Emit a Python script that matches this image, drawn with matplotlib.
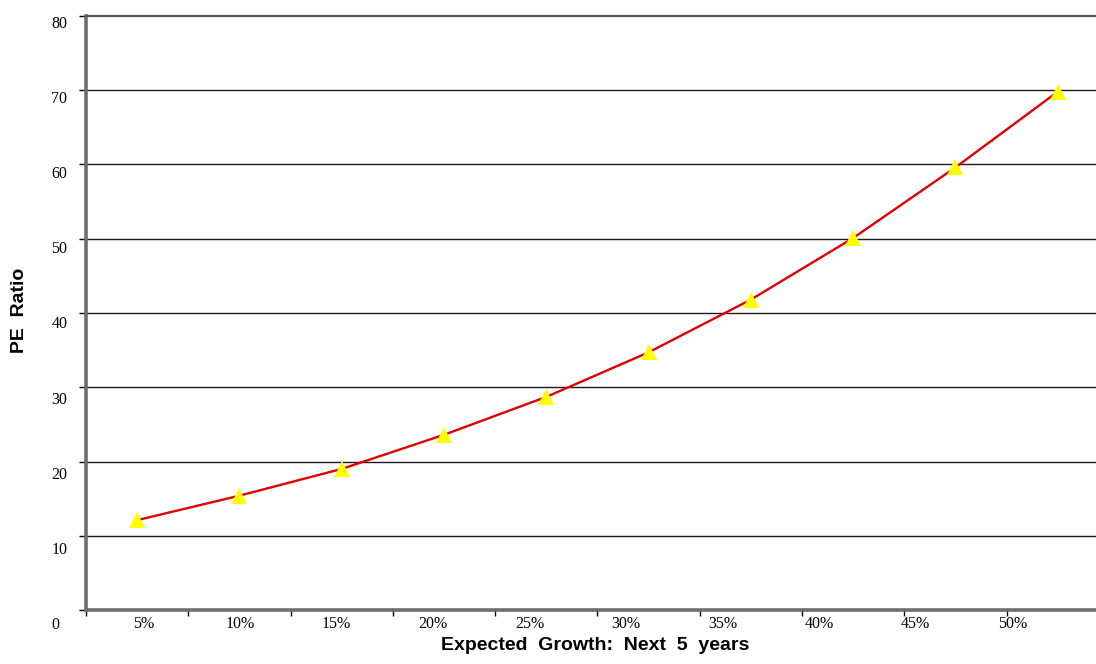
import matplotlib
matplotlib.use('Agg')
import matplotlib.pyplot as plt
import matplotlib.transforms as mtransforms

growth_labels = ['5%', '10%', '15%', '20%', '25%', '30%', '35%', '40%', '45%', '50%']
pe_ratio = [12.1, 15.4, 19.0, 23.6, 28.7, 34.7, 41.8, 50.1, 59.6, 69.8]
y_ticks = [0, 10, 20, 30, 40, 50, 60, 70, 80]

fig = plt.figure(figsize=(10.96, 6.64), dpi=100)
ax = fig.add_axes([86 / 1096, 1 - 610 / 664, 1010 / 1096, 594 / 664])

x = list(range(len(pe_ratio)))
ax.plot(x, pe_ratio, color='#e00000', linewidth=1.7, zorder=3)
ax.plot(x, pe_ratio, linestyle='none', marker='^', markersize=11,
        color='#ffff00', markeredgewidth=0, zorder=4)

ax.set_xlim(-0.5, 9.375)
ax.set_ylim(0, 80)

# gridlines
for v in y_ticks[1:-1]:
    ax.axhline(v, color='#1a1a1a', linewidth=1.0, zorder=1)

# spines
ax.spines['right'].set_visible(False)
ax.spines['top'].set_color('#555555')
ax.spines['top'].set_linewidth(1.6)
ax.spines['left'].set_color('#6e6e6e')
ax.spines['left'].set_linewidth(2.6)
ax.spines['bottom'].set_color('#6e6e6e')
ax.spines['bottom'].set_linewidth(2.6)

# y axis
ax.set_yticks(y_ticks)
ax.set_yticklabels([str(v) for v in y_ticks], fontfamily='Liberation Serif', fontsize=11.5)
ax.tick_params(axis='y', direction='out', length=5, width=1, color='black', pad=8.5)
for v, lab in zip(y_ticks, ax.get_yticklabels()):
    dy = -(4 + (80 - v) / 80 * 5.5) / 72
    dx = -6 / 72 if v == 0 else 0
    lab.set_transform(lab.get_transform() + mtransforms.ScaledTranslation(dx, dy, fig.dpi_scale_trans))

# x axis: tick marks at category boundaries, labels as in the original
ax.set_xticks([i - 0.5 for i in range(len(growth_labels))], minor=True)
ax.tick_params(axis='x', which='minor', direction='out', length=4.3, width=1, color='black')
ax.set_xticks([0.06 + 0.944 * i for i in range(len(growth_labels))])
ax.set_xticklabels(growth_labels, fontfamily='Liberation Serif', fontsize=11.5)
ax.tick_params(axis='x', which='major', length=0, pad=4)

fig.text(595 / 1096, 1 - 646 / 664, 'Expected  Growth:  Next  5  years', ha='center', va='center',
         fontfamily='Liberation Sans', fontweight='bold', fontsize=14)
fig.text(20 / 1096, 1 - 310 / 664, 'PE  Ratio', ha='center', va='center', rotation=90,
         fontfamily='Liberation Sans', fontweight='bold', fontsize=14)

fig.savefig('out.png', dpi=100)
